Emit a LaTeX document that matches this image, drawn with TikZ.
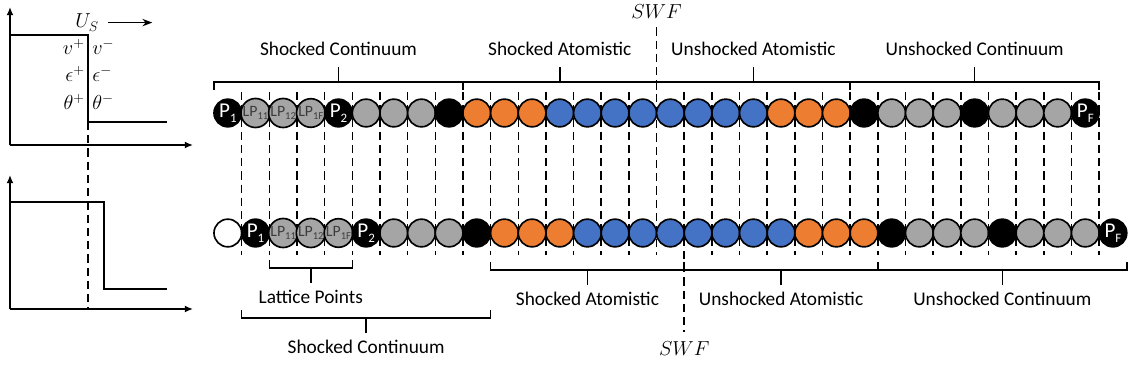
\documentclass[tikz,border=0pt]{standalone}
\usepackage{fontspec}
\setmainfont{Carlito}
\usepackage{tikz}
\usetikzlibrary{arrows.meta, positioning, calc}
\definecolor{atomorange}{RGB}{237, 125, 49}
\definecolor{atomblue}{RGB}{68, 114, 196}
\definecolor{atomgray}{RGB}{165, 165, 165}
\definecolor{lpgray}{RGB}{60, 60, 60}
\newcommand{\lowtxt}[2]{\raisebox{-0.5ex}{\fontsize{#1}{#1}\selectfont #2}}

\tikzset{
  atom/.style={circle, draw=black, line width=1.4pt, minimum size=0.83cm, inner sep=0pt, outer sep=0pt},
  atomk/.style={atom, fill=black},
  atomg/.style={atom, fill=atomgray},
  atomo/.style={atom, fill=atomorange},
  atomb/.style={atom, fill=atomblue},
  atomw/.style={atom, fill=white},
  atomp/.style={atomk, text=white, font=\fontsize{18}{18}\selectfont},
  atomlp/.style={atomg, text=lpgray, font=\fontsize{13.5}{14}\selectfont},
  cutline/.style={line width=1.3pt, dash pattern=on 7pt off 4.3pt},
  grp/.style={line width=1.3pt},
  grplabel/.style={font=\fontsize{16.5}{18}\selectfont, anchor=base},
  mathlabel/.style={font=\fontsize{17}{19}\selectfont, inner sep=1pt},
  plotaxis/.style={line width=1.8pt, -{Latex[length=7pt, width=6pt]}},
  stepline/.style={line width=1.4pt}
}

\begin{document}
\begin{tikzpicture}[x=0.03cm, y=-0.03cm, >=Stealth]
    \useasboundingbox (0,0) rectangle (1136,367);

    % left: profiles across the shock
    \draw[plotaxis] (10,145) -- (10,7);
    \draw[plotaxis] (10,145) -- (193,145);
    \draw[stepline] (10,35) -- (88,35) -- (88,122) -- (167,122);
    \draw[plotaxis] (10,309) -- (10,175);
    \draw[plotaxis] (10,309) -- (193,309);
    \draw[stepline] (10,202) -- (104,202) -- (104,289) -- (167,289);
    \draw[cutline] (88,122) -- (88,309);
    \node[mathlabel, anchor=base] (us) at (87,28) {$U_S$};
    \draw[->, line width=1.2pt] ([xshift=7pt]us.east) -- ++(44,0);
    \node[mathlabel, anchor=base east] (vp) at (86,55) {$v^+$};
    \node[mathlabel, anchor=base west] (vm) at (91,55) {$v^-$};
    \node[mathlabel, anchor=base east] (ep) at (86,82) {$\epsilon^+$};
    \node[mathlabel, anchor=base west] (em) at (91,82) {$\epsilon^-$};
    \node[mathlabel, anchor=base east] (tp) at (86,110) {$\theta^+$};
    \node[mathlabel, anchor=base west] (tm) at (91,110) {$\theta^-$};

    % cell boundaries
    \foreach \k in {0,...,33} {
        \coordinate (u\k) at ({214+\k*27.66},92);
        \coordinate (d\k) at ({214+\k*27.66},255);
    }
    \foreach \k in {1,...,32} {
        \ifnum\k=16 \else \ifnum\k=17 \else
            \draw[cutline] (u\k) -- (d\k);
        \fi\fi
    }
    \path (u16) ++(0,-73) node[mathlabel, anchor=base] (swft) {$SWF$};
    \draw[cutline] ([yshift=-6pt]swft.south) -- (d16);
    \path (d17) ++(0,100) node[mathlabel, anchor=base] (swfb) {$SWF$};
    \draw[cutline] (u17) -- ([yshift=7pt]swfb.north);

    % atoms, top row and shifted bottom row
    \node[atomw] (b0) at ({214+0.5*27.66},233) {};
    \foreach \s/\l [count=\i] in {atomp/{P\lowtxt{11}{1}}, atomlp/{LP\lowtxt{9}{11}},
        atomlp/{LP\lowtxt{9}{12}}, atomlp/{LP\lowtxt{9}{1F}}, atomp/{P\lowtxt{11}{2}},
        atomg/{}, atomg/{}, atomg/{}, atomk/{}, atomo/{}, atomo/{}, atomo/{},
        atomb/{}, atomb/{}, atomb/{}, atomb/{}, atomb/{}, atomb/{}, atomb/{}, atomb/{},
        atomo/{}, atomo/{}, atomo/{}, atomk/{}, atomg/{}, atomg/{}, atomg/{},
        atomk/{}, atomg/{}, atomg/{}, atomg/{}, atomp/{P\lowtxt{11}{F}}} {
        \node[\s] (t\i) at ({214+(\i-0.5)*27.66},113) {\l};
        \node[\s] (b\i) at ({214+(\i+0.5)*27.66},233) {\l};
    }

    % region brackets
    \foreach \a/\b/\txt/\nm in {0/9/Shocked Continuum/tsc, 9/16/Shocked Atomistic/tsa,
        16/23/Unshocked Atomistic/tua, 23/32/Unshocked Continuum/tuc} {
        \draw[grp] ($(u\a)+(0,-2)$) -- ++(0,-8) -| ($(u\b)+(0,-2)$);
        \draw[grp] ($(u\a)!0.5!(u\b)+(0,-10)$) -- ++(0,-15);
        \path ($(u\a)!0.5!(u\b)$) ++(0,-36) node[grplabel] (\nm) {\txt};
    }
    \foreach \a/\b/\dy/\txt/\nm in {2/5/5/Lattice Points/blp, 1/10/55/Shocked Continuum/bsc,
        10/17/7/Shocked Atomistic/bsa, 17/24/7/Unshocked Atomistic/bua,
        24/33/7/Unshocked Continuum/buc} {
        \draw[grp] ($(d\a)+(0,\dy)$) -- ++(0,8) -| ($(d\b)+(0,\dy)$);
        \draw[grp] ($(d\a)!0.5!(d\b)+(0,\dy+8)$) -- ++(0,15);
        \path ($(d\a)!0.5!(d\b)$) ++(0,\dy+43) node[grplabel] (\nm) {\txt};
    }
\end{tikzpicture}
\end{document}
